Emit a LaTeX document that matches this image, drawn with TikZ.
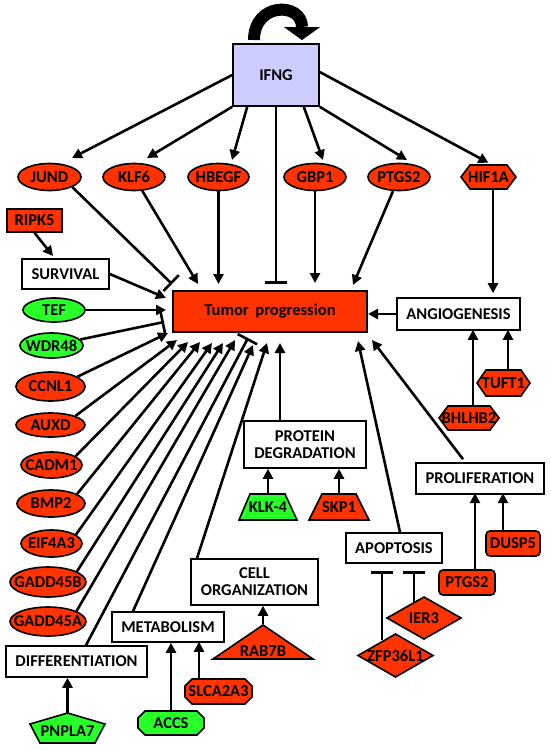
\documentclass[tikz,border=0pt]{standalone}
\usepackage{fontspec}
\setmainfont{Carlito}
\usetikzlibrary{arrows.meta,shapes.geometric,calc}
\definecolor{tred}{RGB}{255,51,0}
\definecolor{tgreen}{RGB}{40,255,40}
\definecolor{tblue}{RGB}{204,204,255}
\begin{document}
\begin{tikzpicture}[x=1pt,y=-1pt,
  lbl/.style={font=\fontsize{16.5}{17}\selectfont\bfseries},
  box/.style={draw, line width=1.6pt, inner sep=0pt, lbl, align=center, fill=white},
  ell/.style={ellipse, draw, line width=1.6pt, inner sep=0pt, lbl, fill=tred},
  shp/.style={draw, line width=1.6pt, line join=miter},
  txt/.style={inner sep=0pt, lbl},
  arr/.style={line width=2.6pt, -{Triangle[length=10pt,width=10pt]}},
  inh/.style={line width=2.6pt, -{Bar[width=22pt]}},
]
\useasboundingbox (0,0) rectangle (550,750);

% ---------- rectangles ----------
\node[box, fill=tblue, minimum width=86pt, minimum height=62pt] (ifng) at (276,75) {IFNG};
\node[box, fill=tred, minimum width=194pt, minimum height=41pt] (tumor) at (270,311.5) {Tumor\hspace{3pt} progression};
\node[box, fill=tred, minimum width=55pt, minimum height=23pt] (ripk5) at (34.5,220.5) {RIPK5};
\node[box, minimum width=87pt, minimum height=30pt] (survival) at (65.5,274) {SURVIVAL};
\node[box, minimum width=123pt, minimum height=32pt] (angio) at (458.5,314) {ANGIOGENESIS};
\node[box, minimum width=122pt, minimum height=47pt] (protdeg) at (305,444.5) {PROTEIN\\DEGRADATION};
\node[box, minimum width=127pt, minimum height=46pt] (cellorg) at (254.5,582) {CELL\\ORGANIZATION};
\node[box, minimum width=112pt, minimum height=30pt] (metab) at (168,627) {METABOLISM};
\node[box, minimum width=141pt, minimum height=31pt] (diff) at (76.5,661.5) {DIFFERENTIATION};
\node[box, minimum width=96pt, minimum height=30pt] (apop) at (394,548) {APOPTOSIS};
\node[box, minimum width=128pt, minimum height=31pt] (prolif) at (480,478.5) {PROLIFERATION};
\node[box, fill=tred, rounded corners=4pt, minimum width=56pt, minimum height=25pt] (ptgs2b) at (467,582.5) {PTGS2};
\node[box, fill=tred, rounded corners=4pt, minimum width=54pt, minimum height=25pt] (dusp5) at (513,543.5) {DUSP5};

% ---------- ellipses ----------
\node[ell, minimum width=63pt, minimum height=27pt] (jund) at (49.5,177) {\makebox[0pt]{JUND}};
\node[ell, minimum width=62pt, minimum height=27pt] (klf6) at (134,177) {\makebox[0pt]{KLF6}};
\node[ell, minimum width=61pt, minimum height=27pt] (hbegf) at (218.5,177) {\makebox[0pt]{HBEGF}};
\node[ell, minimum width=62pt, minimum height=27pt] (gbp1) at (315,177) {\makebox[0pt]{GBP1}};
\node[ell, minimum width=62pt, minimum height=27pt] (ptgs2) at (399,177) {\makebox[0pt]{PTGS2}};
\node[ell, fill=tgreen, minimum width=62pt, minimum height=24pt] (tef) at (54,310) {\makebox[0pt]{TEF}};
\node[ell, fill=tgreen, minimum width=63pt, minimum height=25pt] (wdr48) at (51.5,345.5) {\makebox[0pt]{WDR48}};
\node[ell, minimum width=69pt, minimum height=29pt] (ccnl1) at (50.5,386.5) {\makebox[0pt]{CCNL1}};
\node[ell, minimum width=69pt, minimum height=24pt] (auxd) at (50.5,425) {\makebox[0pt]{AUXD}};
\node[ell, minimum width=61pt, minimum height=26pt] (cadm1) at (51.5,465) {\makebox[0pt]{CADM1}};
\node[ell, minimum width=68pt, minimum height=27pt] (bmp2) at (51,503.5) {\makebox[0pt]{BMP2}};
\node[ell, minimum width=61pt, minimum height=27pt] (eif4a3) at (51.5,543.5) {\makebox[0pt]{EIF4A3}};
\node[ell, minimum width=76pt, minimum height=30pt] (gadd45b) at (48,582) {\makebox[0pt]{GADD45B}};
\node[ell, minimum width=76pt, minimum height=29pt] (gadd45a) at (48,621.5) {\makebox[0pt]{GADD45A}};

% ---------- polygon shapes ----------
% hexagons
\filldraw[shp, fill=tred] (461,177) -- (470,165) -- (507,165) -- (516,177) -- (507,189) -- (470,189) -- cycle;
\node[txt, minimum width=55pt, minimum height=24pt] (hif1a) at (488.5,177) {HIF1A};
\filldraw[shp, fill=tred] (477,383) -- (486,370) -- (521,370) -- (530,383) -- (521,396) -- (486,396) -- cycle;
\node[txt, minimum width=53pt, minimum height=26pt] (tuft1) at (503.5,383) {TUFT1};
\filldraw[shp, fill=tred] (439,418) -- (448,406) -- (490,406) -- (499,418) -- (490,430) -- (448,430) -- cycle;
\node[txt, minimum width=60pt, minimum height=24pt] (bhlhb2) at (469,418) {BHLHB2};
% trapezoids
\filldraw[shp, fill=tgreen] (239,520) -- (250,494) -- (285,494) -- (297,520) -- cycle;
\node[txt, minimum height=26pt] (klk4) at (268,507) {KLK-4};
\filldraw[shp, fill=tred] (309,520) -- (322,494) -- (356,494) -- (369,520) -- cycle;
\node[txt, minimum height=26pt] (skp1) at (339,507) {SKP1};
% triangle
\filldraw[shp, fill=tred] (213,659) -- (263,625) -- (313,659) -- cycle;
\node[txt, minimum height=54pt] (rab7b) at (263,651) {RAB7B};
% pentagon
\filldraw[shp, fill=tgreen] (67.5,713) -- (105,724) -- (95,743) -- (40,743) -- (30,724) -- cycle;
\node[txt, minimum height=36pt] (pnpla7) at (67.5,731) {PNPLA7};
% octagons
\filldraw[shp, fill=tgreen] (145,711) -- (197,711) -- (204,718) -- (204,728) -- (197,735) -- (145,735) -- (138,728) -- (138,718) -- cycle;
\node[txt, minimum height=24pt] (accs) at (171,723) {ACCS};
\filldraw[shp, fill=tred] (192,679) -- (245,679) -- (252,686) -- (252,697) -- (245,704) -- (192,704) -- (185,697) -- (185,686) -- cycle;
\node[txt, minimum height=25pt] (slca) at (218.5,691.5) {SLCA2A3};
% diamonds
\filldraw[shp, fill=tred] (387,618) -- (424,597) -- (461,618) -- (424,639) -- cycle;
\node[txt, minimum height=42pt] (ier3) at (424,618) {IER3};
\filldraw[shp, fill=tred] (358,655.5) -- (395.5,634) -- (433,655.5) -- (395.5,677) -- cycle;
\node[txt, minimum height=43pt] (zfp) at (395.5,656) {ZFP36L1};

% ---------- self loop on IFNG ----------
\draw[line width=12pt, -{Triangle[length=13pt,width=36pt,line width=0.1pt]}]
  (254,40) .. controls (254,2) and (302,2) .. (302,40);

% ---------- connector end points ----------
\coordinate (jundin) at (72,158);
\coordinate (klf6in) at (147,158);
\coordinate (hbegfin) at (232,160);
\coordinate (gbp1in) at (323,160);
\coordinate (ptgs2in) at (407,160);
\coordinate (tj) at (172,284);
\coordinate (tk) at (198,284);
\coordinate (th) at (218.5,284);
\coordinate (ti) at (276,284);
\coordinate (tg) at (315,283);
\coordinate (tp) at (353,285);
\coordinate (ts) at (166,298);
\coordinate (tt) at (166,310);
\coordinate (tw) at (164,322);
\coordinate (b1) at (168,333);
\coordinate (b2) at (177,340);
\coordinate (b3) at (188,342);
\coordinate (b4) at (200,342);
\coordinate (b5) at (212,343);
\coordinate (b6) at (223,343);
\coordinate (b7) at (235,340);
\coordinate (b8) at (248,338);
\coordinate (b9) at (253,345);
\coordinate (b10) at (267,343);
\coordinate (b11) at (280,343);
\coordinate (b12) at (358,341);
\coordinate (b13) at (372,340);
\coordinate (zb) at (382,571);
\coordinate (ib) at (414,571);
\coordinate (angin) at (368,314);
\coordinate (survin) at (53,256);

% ---------- connectors from IFNG ----------
\draw[arr] (ifng.west) -- (jundin);
\draw[arr] (ifng.south west) -- (klf6in);
\draw[arr] ($(ifng.south west)+(15,0)$) -- (hbegfin);
\draw[inh] (ifng.south) -- (ti);
\draw[arr] ($(ifng.south east)+(-16,0)$) -- (gbp1in);
\draw[arr] (ifng.south east) -- (ptgs2in);
\draw[arr] ($(ifng.east)+(0,-3)$) -- ($(hif1a.north)+(0,-2)$);

% ---------- into tumor from top ----------
\draw[inh] (jund.south east) -- (tj);
\draw[arr] (klf6) -- (tk);
\draw[arr] (hbegf) -- (th);
\draw[arr] (gbp1) -- (tg);
\draw[arr] (ptgs2) -- (tp);

% ---------- right side ----------
\draw[arr] ($(hif1a.south)+(4.5,0)$) -- ($(hif1a.south)+(4.5,104)$);
\draw[arr] (angio.west) -- (angin);
\draw[arr] ($(bhlhb2.north)+(4,0)$) -- ($(bhlhb2.north)+(4,-76)$);
\draw[arr] ($(tuft1.north)+(4.5,0)$) -- ($(tuft1.north)+(4.5,-40)$);

% ---------- left side ----------
\draw[arr] (ripk5.south) -- (survin);
\draw[arr] (survival.east) -- (ts);
\draw[arr] (tef.east) -- (tt);
\draw[inh] (wdr48) -- (tw);
\draw[arr] (ccnl1.20) -- (b1);
\draw[arr] (auxd.20) -- (b2);
\draw[arr] (cadm1.20) -- (b3);
\draw[arr] (bmp2.20) -- (b4);
\draw[arr] (eif4a3.20) -- (b5);
\draw[arr] (gadd45b.20) -- (b6);
\draw[arr] (gadd45a.20) -- (b7);
\draw[inh] ($(diff.north)+(9.5,0)$) -- (b8);
\draw[arr] ($(metab.north)+(-35,0)$) -- (b9);
\draw[arr] ($(cellorg.north)+(-57.5,0)$) -- (b10);
\draw[arr] ($(protdeg.north)+(-25,0)$) -- (b11);
\draw[arr] ($(apop.north)+(6,0)$) -- (b12);
\draw[arr] ($(prolif.north)+(-17,-3)$) -- (b13);

% ---------- into process boxes ----------
\draw[arr] (pnpla7.north) -- (pnpla7.north |- diff.south);
\draw[arr] (accs.north) -- (accs.north |- metab.south);
\draw[arr] ($(slca.north)+(-19.5,0)$) -- ($(slca.north)+(-19.5,-37)$);
\draw[arr] (rab7b.north) -- (rab7b.north |- cellorg.south);
\draw[arr] (klk4.north) -- (klk4.north |- protdeg.south);
\draw[arr] (skp1.north) -- (skp1.north |- protdeg.south);
\draw[arr] ($(ptgs2b.north)+(8,0)$) -- ($(ptgs2b.north)+(8,-76)$);
\draw[arr] ($(dusp5.north)+(-10,0)$) -- ($(dusp5.north)+(-10,-37)$);
\draw[inh] ($(zfp.north)+(-13.5,6)$) -- (zb);
\draw[inh] ($(ier3.north)+(-10,5)$) -- (ib);
\end{tikzpicture}
\end{document}
